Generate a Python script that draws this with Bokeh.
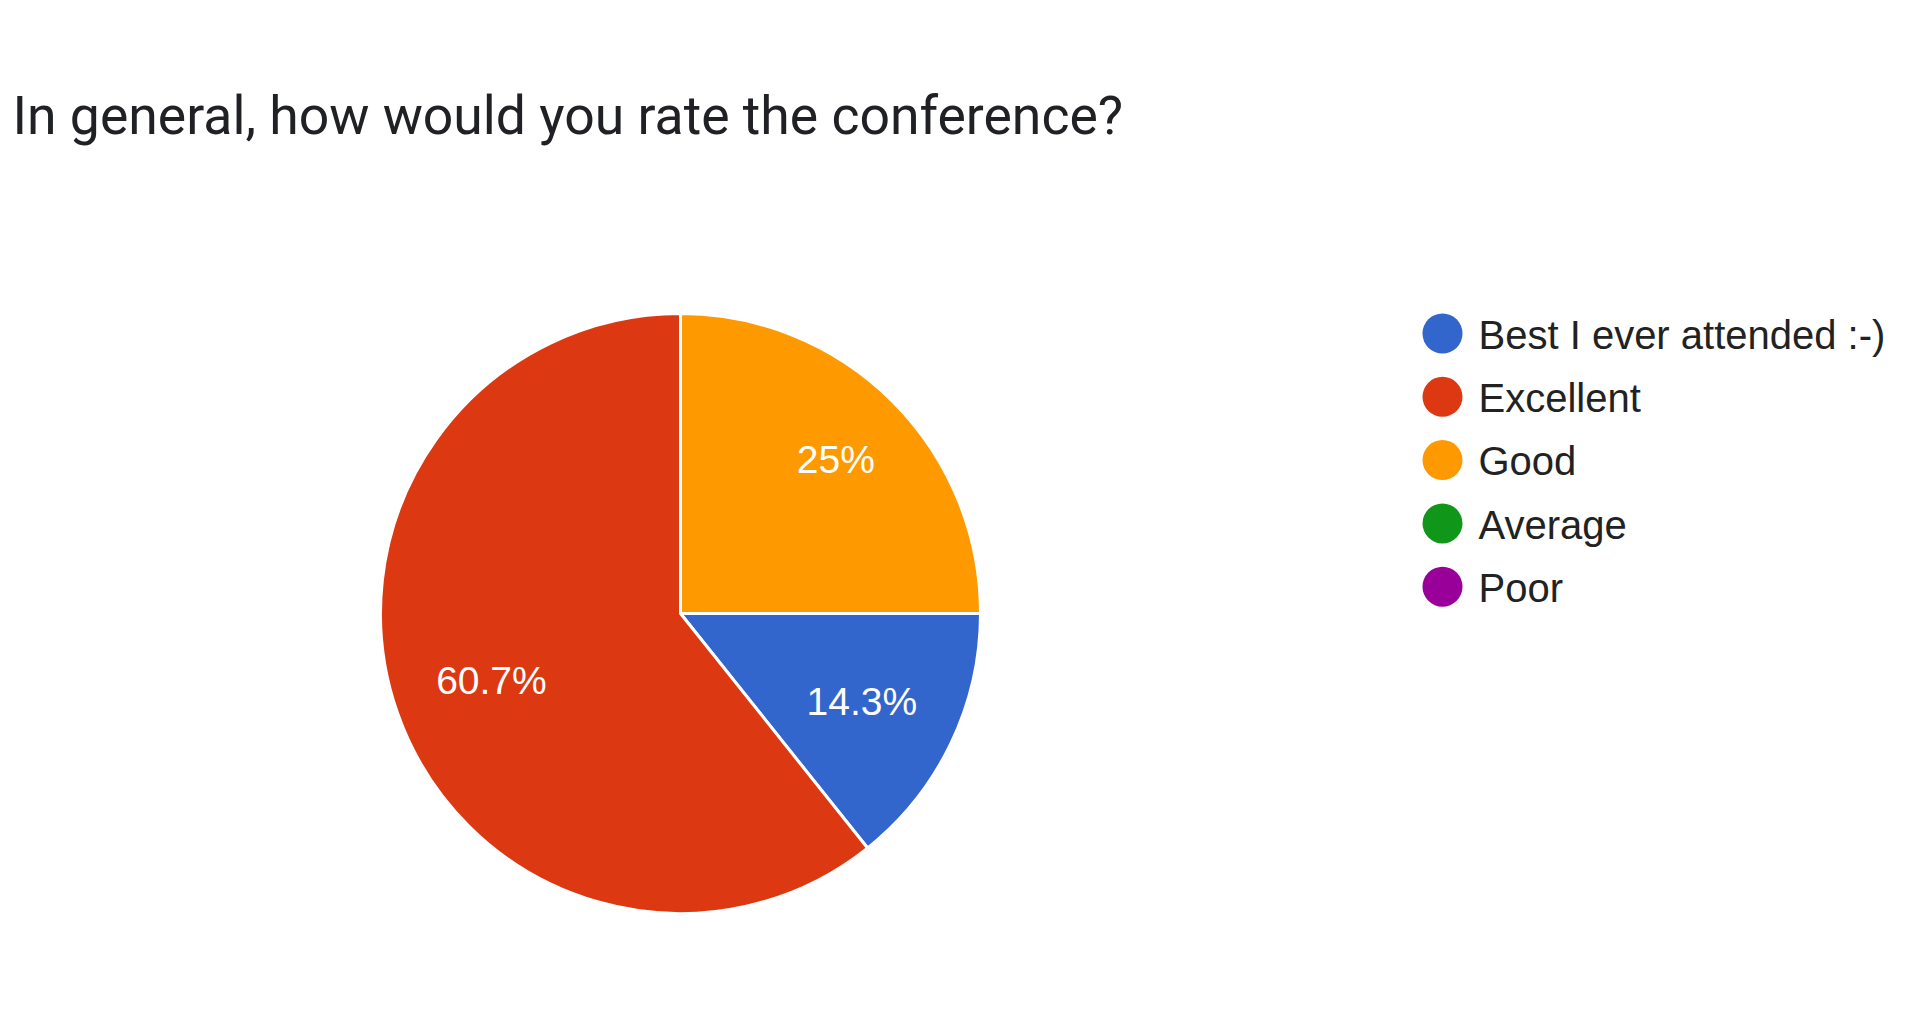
import math
from bokeh.plotting import figure
from bokeh.models import Range1d, ColumnDataSource
from bokeh.core.properties import value
from bokeh.embed import file_html
from bokeh.resources import INLINE

# ---- data ----
title_text = "In general, how would you rate the conference?"
categories = ["Best I ever attended :-)", "Excellent", "Good", "Average", "Poor"]
counts = [4, 17, 7, 0, 0]
colors = ["#3366cc", "#dc3912", "#ff9900", "#109618", "#990099"]
# order in which slices are laid clockwise from 12 o'clock
draw_order = ["Good", "Best I ever attended :-)", "Excellent"]

W, H = 1904, 1013
p = figure(width=W, height=H, output_backend="svg", toolbar_location=None,
           x_range=Range1d(0, W), y_range=Range1d(0, H), min_border=0)
p.axis.visible = False
p.grid.visible = False
p.outline_line_color = None
p.background_fill_color = "white"
p.border_fill_color = "white"

SHAPE_DY = -7   # rendering corrections (data units)
TITLE_DY = 10
TEXT_DY = 6

def Y(page_y):
    # page-pixel y (top origin) -> data y
    return H + 8 - page_y

# approximate Arial advance widths (em) for label box sizing
ARIAL_W = {c: 0.556 for c in "0123456789"}
ARIAL_W.update({".": 0.278, "%": 0.889})

def text_w(s, size):
    return sum(ARIAL_W.get(ch, 0.556) for ch in s) * size

# ---- title ----
p.text(x=[12], y=[Y(133) + TITLE_DY], text=[title_text], text_font=value("Roboto"),
       text_font_size="53.5px", text_color="#202124", text_baseline="alphabetic",
       text_align="left")

# ---- pie ----
cx, cy_t, R = 680, Y(614), 300
cy = cy_t + SHAPE_DY
LBL_SIZE = 39
cap = 0.716 * LBL_SIZE
total = sum(counts)
starts, ends, cols, lx, ly, lt = [], [], [], [], [], []
ang = math.pi / 2
for name in draw_order:
    i = categories.index(name)
    frac = counts[i] / total
    a0 = ang
    a1 = ang - frac * 2 * math.pi
    starts.append(a0)
    ends.append(a1)
    cols.append(colors[i])
    pct = f"{frac * 100:.1f}".rstrip("0").rstrip(".") + "%"
    lt.append(pct)
    mid = (a0 + a1) / 2
    ux, uy = math.cos(mid), math.sin(mid)
    proj = abs(ux) * text_w(pct, LBL_SIZE) / 2 + abs(uy) * cap / 2
    d = 0.857 * R - proj
    lx.append(cx + d * ux)
    ly.append(cy_t + d * uy - cap / 2 + TEXT_DY)
    ang = a1

src = ColumnDataSource(dict(s=starts, e=ends, c=cols))
p.wedge(x=cx, y=cy, radius=R, start_angle="s", end_angle="e", direction="clock",
        fill_color="c", line_color="white", line_width=3, source=src)

p.text(x=lx, y=ly, text=lt, text_font=value("Liberation Sans"),
       text_font_size=f"{LBL_SIZE}px", text_color="white", text_align="center",
       text_baseline="alphabetic")

# ---- legend ----
LEG_SIZE = 40
lgx, lgy0, step = 1442, Y(334), 63.3
leg_y = [lgy0 - i * step for i in range(len(categories))]
p.scatter(x=[lgx] * len(categories), y=[v + SHAPE_DY for v in leg_y], size=40,
          marker="circle", fill_color=colors, line_color=None)
p.text(x=[lgx + 36] * len(categories),
       y=[v - 0.716 * LEG_SIZE / 2 + TEXT_DY for v in leg_y], text=categories,
       text_font=value("Liberation Sans"), text_font_size=f"{LEG_SIZE}px",
       text_color="#222222", text_align="left", text_baseline="alphabetic")

open("out.html", "w").write(file_html(p, INLINE))
